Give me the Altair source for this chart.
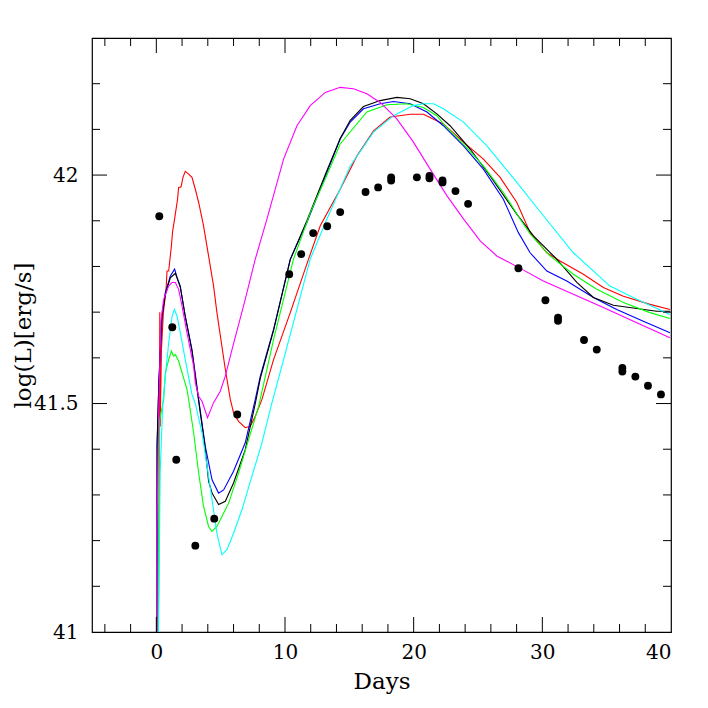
import altair as alt
import pandas as pd

# ---------------- data ----------------
red_x = [0.15, 0.27, 0.30, 0.40, 0.55, 0.75, 0.83, 0.96, 1.17, 1.27, 1.42, 1.53, 1.65, 1.73, 1.92, 2.07, 2.25,
         2.51, 2.77, 3.03, 3.29, 3.67, 4.06, 4.45, 4.71, 5.36, 5.75, 6.0, 6.39, 6.91, 7.30, 7.69, 8.21, 9.11,
         10.41, 11.83, 12.74, 14.29, 15.59, 16.88, 18.17, 19.73, 20.76, 22.31, 23.87, 25.42, 26.72, 28.02,
         29.05, 30.35, 31.38, 33.19, 34.74, 36.30, 38.37, 39.92]
red_y = [40.9, 41.70, 41.45, 41.62, 41.70, 41.746, 41.79, 41.79, 41.845, 41.878, 41.904, 41.925, 41.947, 41.973,
         41.974, 41.995, 42.008, 42.002, 41.995, 41.969, 41.940, 41.889, 41.823, 41.757, 41.699, 41.575, 41.509,
         41.480, 41.461, 41.447, 41.450, 41.472, 41.509, 41.596, 41.699, 41.816, 41.889, 41.969, 42.042, 42.097,
         42.127, 42.133, 42.133, 42.112, 42.072, 42.035, 41.995, 41.940, 41.874, 41.830, 41.812, 41.783, 41.754,
         41.735, 41.717, 41.706]

blue_x = [0.05, 0.06, 0.20, 0.44, 0.70, 1.09, 1.42, 1.61, 1.86, 2.25, 2.77, 3.29, 3.81, 4.33, 4.84, 5.23, 6.0,
          6.91, 7.69, 8.08, 9.11, 10.41, 11.70, 13.26, 14.29, 15.07, 16.10, 17.40, 18.43, 19.73, 21.03, 22.31,
          23.87, 25.42, 26.97, 28.14, 29.05, 30.35, 31.90, 33.97, 35.78, 37.85, 39.92]
blue_y = [40.9, 41.41, 41.55, 41.691, 41.743, 41.779, 41.794, 41.776, 41.757, 41.691, 41.618, 41.509, 41.406,
          41.333, 41.304, 41.311, 41.352, 41.414, 41.509, 41.560, 41.662, 41.816, 41.896, 42.006, 42.079, 42.116,
          42.145, 42.156, 42.161, 42.156, 42.138, 42.108, 42.064, 42.013, 41.947, 41.874, 41.830, 41.790, 41.768,
          41.732, 41.706, 41.680, 41.655]

black_x = [0.05, 0.06, 0.20, 0.44, 0.70, 1.09, 1.48, 1.86, 2.25, 2.77, 3.29, 3.81, 4.06, 4.33, 4.84, 5.36, 6.0,
           6.91, 7.69, 8.08, 9.11, 10.41, 11.70, 13.26, 14.29, 15.07, 16.10, 17.40, 18.69, 19.73, 20.76, 21.80,
           22.83, 24.39, 25.94, 28.0, 29.31, 31.12, 32.68, 33.97, 35.52, 37.34, 38.89, 39.92]
black_y = [40.9, 41.41, 41.55, 41.69, 41.74, 41.775, 41.785, 41.755, 41.69, 41.615, 41.505, 41.40, 41.33, 41.304,
           41.279, 41.286, 41.326, 41.399, 41.50, 41.555, 41.66, 41.815, 41.90, 42.01, 42.08, 42.12, 42.15, 42.163,
           42.170, 42.167, 42.156, 42.134, 42.108, 42.057, 41.998, 41.915, 41.867, 41.816, 41.765, 41.732, 41.715,
           41.708, 41.702, 41.702]

green_x = [0.10, 0.26, 0.57, 0.70, 0.96, 1.17, 1.34, 1.48, 1.73, 2.0, 2.38, 2.51, 2.90, 3.29, 3.67, 4.06, 4.33,
           4.71, 5.62, 6.39, 7.17, 7.95, 9.11, 10.66, 12.0, 13.26, 14.29, 16.36, 17.92, 19.47, 20.76, 21.80, 22.31,
           23.87, 25.42, 26.97, 28.27, 29.05, 30.60, 32.41, 34.23, 36.30, 38.37, 39.92]
green_y = [40.9, 41.465, 41.509, 41.567, 41.596, 41.615, 41.604, 41.607, 41.593, 41.567, 41.531, 41.509, 41.436,
           41.348, 41.275, 41.231, 41.220, 41.231, 41.282, 41.348, 41.421, 41.494, 41.64, 41.816, 41.92, 42.0,
           42.068, 42.138, 42.154, 42.156, 42.148, 42.13, 42.112, 42.068, 42.020, 41.962, 41.904, 41.871, 41.823,
           41.783, 41.750, 41.721, 41.699, 41.686]

cyan_x = [0.12, 0.30, 0.50, 0.70, 0.96, 1.22, 1.40, 1.61, 1.86, 2.25, 2.77, 3.03, 3.55, 3.94, 4.33, 4.71, 5.10,
          5.49, 6.0, 6.66, 7.43, 8.21, 8.99, 9.89, 11.96, 13.26, 15.07, 16.88, 18.43, 19.98, 20.76, 21.54, 22.31,
          23.87, 25.69, 26.97, 28.02, 30.08, 32.41, 35.26, 37.34, 39.92]
cyan_y = [40.9, 41.35, 41.50, 41.560, 41.633, 41.691, 41.706, 41.691, 41.655, 41.596, 41.52, 41.50, 41.436,
          41.363, 41.289, 41.216, 41.169, 41.180, 41.216, 41.268, 41.341, 41.414, 41.502, 41.596, 41.816, 41.904,
          42.020, 42.094, 42.130, 42.152, 42.156, 42.156, 42.145, 42.116, 42.064, 42.020, 41.984, 41.911, 41.830,
          41.757, 41.728, 41.695]

magenta_x = [0.04, 0.05, 0.20, 0.35, 0.57, 0.96, 1.22, 1.48, 1.73, 2.0, 2.38, 2.90, 3.03, 3.29, 3.55, 3.98, 4.45,
             4.97, 5.36, 5.88, 6.91, 7.69, 8.60, 9.89, 10.93, 11.96, 13.13, 14.29, 15.32, 16.36, 17.40, 18.69,
             19.98, 21.28, 22.58, 23.87, 25.17, 26.46, 28.14, 30.08, 32.41, 34.74, 37.34, 39.92]
magenta_y = [40.9, 41.22, 41.50, 41.68, 41.728, 41.757, 41.765, 41.765, 41.750, 41.713, 41.655, 41.582, 41.545,
             41.516, 41.505, 41.469, 41.502, 41.527, 41.560, 41.618, 41.728, 41.816, 41.904, 42.035, 42.108, 42.152,
             42.181, 42.192, 42.189, 42.178, 42.159, 42.123, 42.072, 42.013, 41.955, 41.904, 41.856, 41.823, 41.798,
             41.768, 41.739, 41.710, 41.677, 41.644]

obs_x = [0.23, 1.24, 1.55, 3.03, 4.5, 6.29, 10.33, 11.26, 12.19, 13.28, 14.29, 16.26, 17.24, 18.25, 18.25, 20.25,
         21.23, 21.23, 22.24, 22.24, 23.25, 24.23, 28.14, 30.24, 31.22, 31.22, 33.24, 34.23, 36.22, 36.22, 37.23,
         38.21, 39.22]
obs_y = [41.910, 41.667, 41.377, 41.189, 41.248, 41.476, 41.783, 41.827, 41.873, 41.888, 41.919, 41.963, 41.973,
         41.995, 41.988, 41.995, 41.998, 41.993, 41.988, 41.984, 41.965, 41.937, 41.796, 41.726, 41.688, 41.681,
         41.639, 41.618, 41.578, 41.570, 41.559, 41.539, 41.520]

model_names = ["red", "blue", "black", "green", "cyan", "magenta"]
model_colors = ["#ff0000", "#0000ff", "#000000", "#00ff00", "#00ffff", "#ff00ff"]

x_labels = [0, 10, 20, 30, 40]
y_labels = [41, 41.5, 42]
x_minor = [-4, -2, 2, 4, 6, 8, 12, 14, 16, 18, 22, 24, 26, 28, 32, 34, 36, 38]
x_major = [0, 10, 20, 30]
y_minor = [41.1, 41.2, 41.3, 41.4, 41.6, 41.7, 41.8, 41.9, 42.1, 42.2]
y_major = [41.5, 42.0]

# ---------------- build tables ----------------
series = {"red": (red_x, red_y), "blue": (blue_x, blue_y), "black": (black_x, black_y),
          "green": (green_x, green_y), "cyan": (cyan_x, cyan_y), "magenta": (magenta_x, magenta_y)}
rows = []
for name, (xs, ys) in series.items():
    for i, (xv, yv) in enumerate(zip(xs, ys)):
        rows.append({"model": name, "i": i, "day": xv, "logL": yv})
lines_df = pd.DataFrame(rows)
obs_df = pd.DataFrame({"day": obs_x, "logL": obs_y})

W, H = 579, 594
FONT = "DejaVu Serif"

xscale = alt.Scale(domain=[-5, 40], nice=False, zero=False)
yscale = alt.Scale(domain=[41, 42.3], nice=False, zero=False)

x_axis = alt.Axis(values=x_labels, format="d", title="Days", labelPadding=10, titlePadding=8)
y_axis = alt.Axis(values=y_labels, format="~g", title="log(L)[erg/s]", labelPadding=14,
                  titleX=-69, titleY=H / 2, titleBaseline="middle")

X = alt.X("day:Q", scale=xscale, axis=x_axis)
Y = alt.Y("logL:Q", scale=yscale, axis=y_axis)

lines = alt.Chart(lines_df).mark_line(strokeWidth=1.1, clip=True).encode(
    x=X, y=Y,
    color=alt.Color("model:N", scale=alt.Scale(domain=model_names, range=model_colors), legend=None),
    detail="model:N",
    order="i:Q",
)

dots = alt.Chart(obs_df).mark_circle(size=62, color="black", opacity=1).encode(x=X, y=Y)


def xticks(vals, length):
    df = pd.DataFrame({"day": vals})
    base = alt.Chart(df).mark_rule(color="black", strokeWidth=1)
    bottom = base.encode(x=X, y=alt.value(H), y2=alt.value(H - length))
    top = base.encode(x=X, y=alt.value(0), y2=alt.value(length))
    return [bottom, top]


def yticks(vals, length):
    df = pd.DataFrame({"logL": vals})
    base = alt.Chart(df).mark_rule(color="black", strokeWidth=1)
    left = base.encode(y=Y, x=alt.value(0), x2=alt.value(length))
    right = base.encode(y=Y, x=alt.value(W), x2=alt.value(W - length))
    return [left, right]


layers = [lines, dots] + xticks(x_minor, 8) + xticks(x_major, 15) + yticks(y_minor, 8) + yticks(y_major, 15)

chart = alt.layer(*layers).properties(
    width=W, height=H,
    autosize=alt.AutoSizeParams(type="none"),
    padding={"left": 84, "top": 30, "right": 29, "bottom": 68},
    background="white",
).configure_view(
    stroke="black", strokeWidth=1.2
).configure_axis(
    ticks=False, domain=False, grid=False,
    labelFont=FONT, labelFontSize=20, labelColor="black",
    titleFont=FONT, titleFontSize=23, titleFontWeight="normal", titleColor="black",
)

chart.save("out.html", embed_options={"renderer": "svg", "actions": False})
